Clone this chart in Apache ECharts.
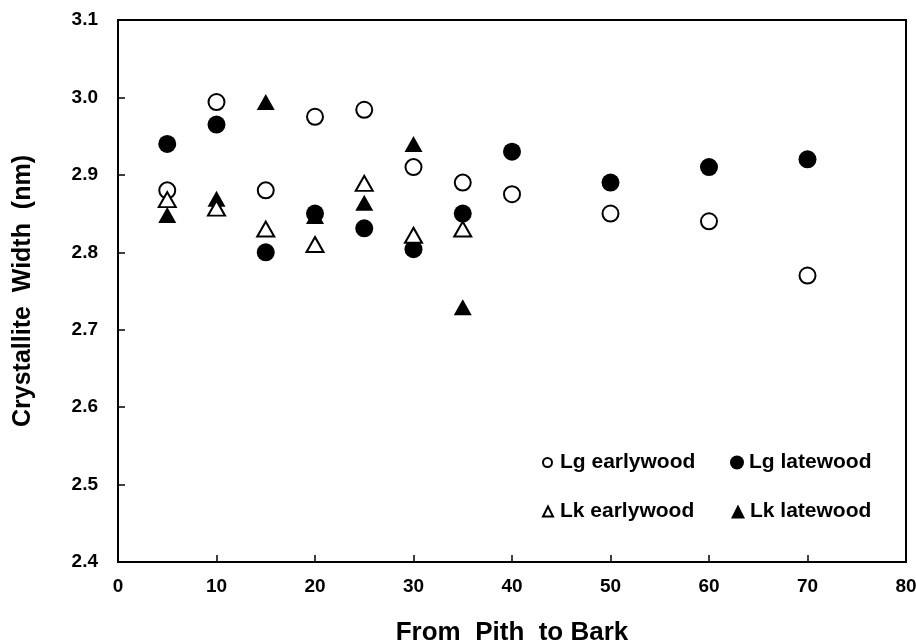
<!DOCTYPE html>
<html lang="en">
<head>
    <meta charset="UTF-8">
    <title>Crystallite Width</title>
    <style>
        html, body { margin: 0; padding: 0; background: #fff; }
        #chart { width: 916px; height: 643px; }
    </style>
</head>
<body>
    <div id="chart"></div>
    <script src="https://cdn.jsdelivr.net/npm/echarts@6/dist/echarts.min.js"></script>
    <script>
        // positions from pith to bark
        const lgX = [5, 10, 15, 20, 25, 30, 35, 40, 50, 60, 70];
        const lkX = [5, 10, 15, 20, 25, 30, 35];
        // crystallite width (nm)
        const lgEarly = [2.88, 2.994, 2.88, 2.975, 2.984, 2.91, 2.89, 2.875, 2.85, 2.84, 2.77];
        const lgLate = [2.94, 2.965, 2.80, 2.85, 2.831, 2.804, 2.85, 2.93, 2.89, 2.91, 2.92];
        const lkEarly = [2.868, 2.857, 2.83, 2.81, 2.889, 2.822, 2.83];
        const lkLate = [2.848, 2.869, 2.994, 2.847, 2.864, 2.94, 2.729];

        const font = '"Liberation Sans", Arial, sans-serif';
        const chart = echarts.init(document.getElementById('chart'));

        function pairs(xs, ys) {
            return xs.map(function (x, i) { return [x, ys[i]]; });
        }

        const openStyle = { color: '#fff', borderColor: '#000', borderWidth: 2, opacity: 1 };
        const fillStyle = { color: '#000', borderColor: '#000', borderWidth: 0, opacity: 1 };

        // one legend per entry so each icon can have its own size
        function legendItem(name, left, top, size, pad) {
            return {
                data: [name], left: left, top: top,
                itemWidth: size, itemHeight: size, itemGap: 0,
                padding: 0,
                textStyle: {
                    fontFamily: font, fontWeight: 'bold', fontSize: 21, color: '#000',
                    padding: [0, 0, 0, pad]
                }
            };
        }

        chart.setOption({
            backgroundColor: '#fff',
            animation: false,
            grid: {
                left: 118, right: 10, top: 20, bottom: 81,
                outerBoundsMode: 'none',
                show: true, borderColor: '#000', borderWidth: 2, backgroundColor: 'transparent'
            },
            legend: [
                legendItem('Lg earlywood', 542, 452, 9, 3),
                legendItem('Lg latewood', 730, 452, 14, 0),
                legendItem('Lk earlywood', 542, 501, 10, 2),
                legendItem('Lk latewood', 731, 501, 14, 0)
            ],
            xAxis: {
                type: 'value', min: 0, max: 80, interval: 10,
                name: 'From  Pith  to Bark', nameLocation: 'middle', nameGap: 58,
                nameTextStyle: { fontFamily: font, fontWeight: 'bold', fontSize: 26, color: '#000' },
                axisLine: { show: false },
                axisTick: { show: true, inside: true, length: 7, lineStyle: { color: '#000', width: 1.5 } },
                axisLabel: { fontFamily: font, fontWeight: 'bold', fontSize: 19, color: '#000', margin: 15 },
                splitLine: { show: false }
            },
            yAxis: {
                type: 'value', min: 2.4, max: 3.1, interval: 0.1,
                name: 'Crystallite  Width  (nm)', nameLocation: 'middle', nameGap: 82,
                nameTextStyle: { fontFamily: font, fontWeight: 'bold', fontSize: 25, color: '#000' },
                axisLine: { show: false },
                axisTick: { show: true, inside: true, length: 7, lineStyle: { color: '#000', width: 1.5 } },
                axisLabel: {
                    fontFamily: font, fontWeight: 'bold', fontSize: 19, color: '#000', margin: 20,
                    formatter: function (v) { return v.toFixed(1); }
                },
                splitLine: { show: false }
            },
            series: [{
                name: 'Lg earlywood', type: 'scatter', symbol: 'circle', symbolSize: 16,
                itemStyle: openStyle, data: pairs(lgX, lgEarly), z: 3
            }, {
                name: 'Lg latewood', type: 'scatter', symbol: 'circle', symbolSize: 18,
                itemStyle: fillStyle, data: pairs(lgX, lgLate), z: 2
            }, {
                name: 'Lk earlywood', type: 'scatter', symbol: 'triangle', symbolSize: [17, 15],
                itemStyle: openStyle, data: pairs(lkX, lkEarly), z: 3
            }, {
                name: 'Lk latewood', type: 'scatter', symbol: 'triangle', symbolSize: [18, 16],
                itemStyle: fillStyle, data: pairs(lkX, lkLate), z: 2
            }]
        });
    </script>
</body>
</html>
